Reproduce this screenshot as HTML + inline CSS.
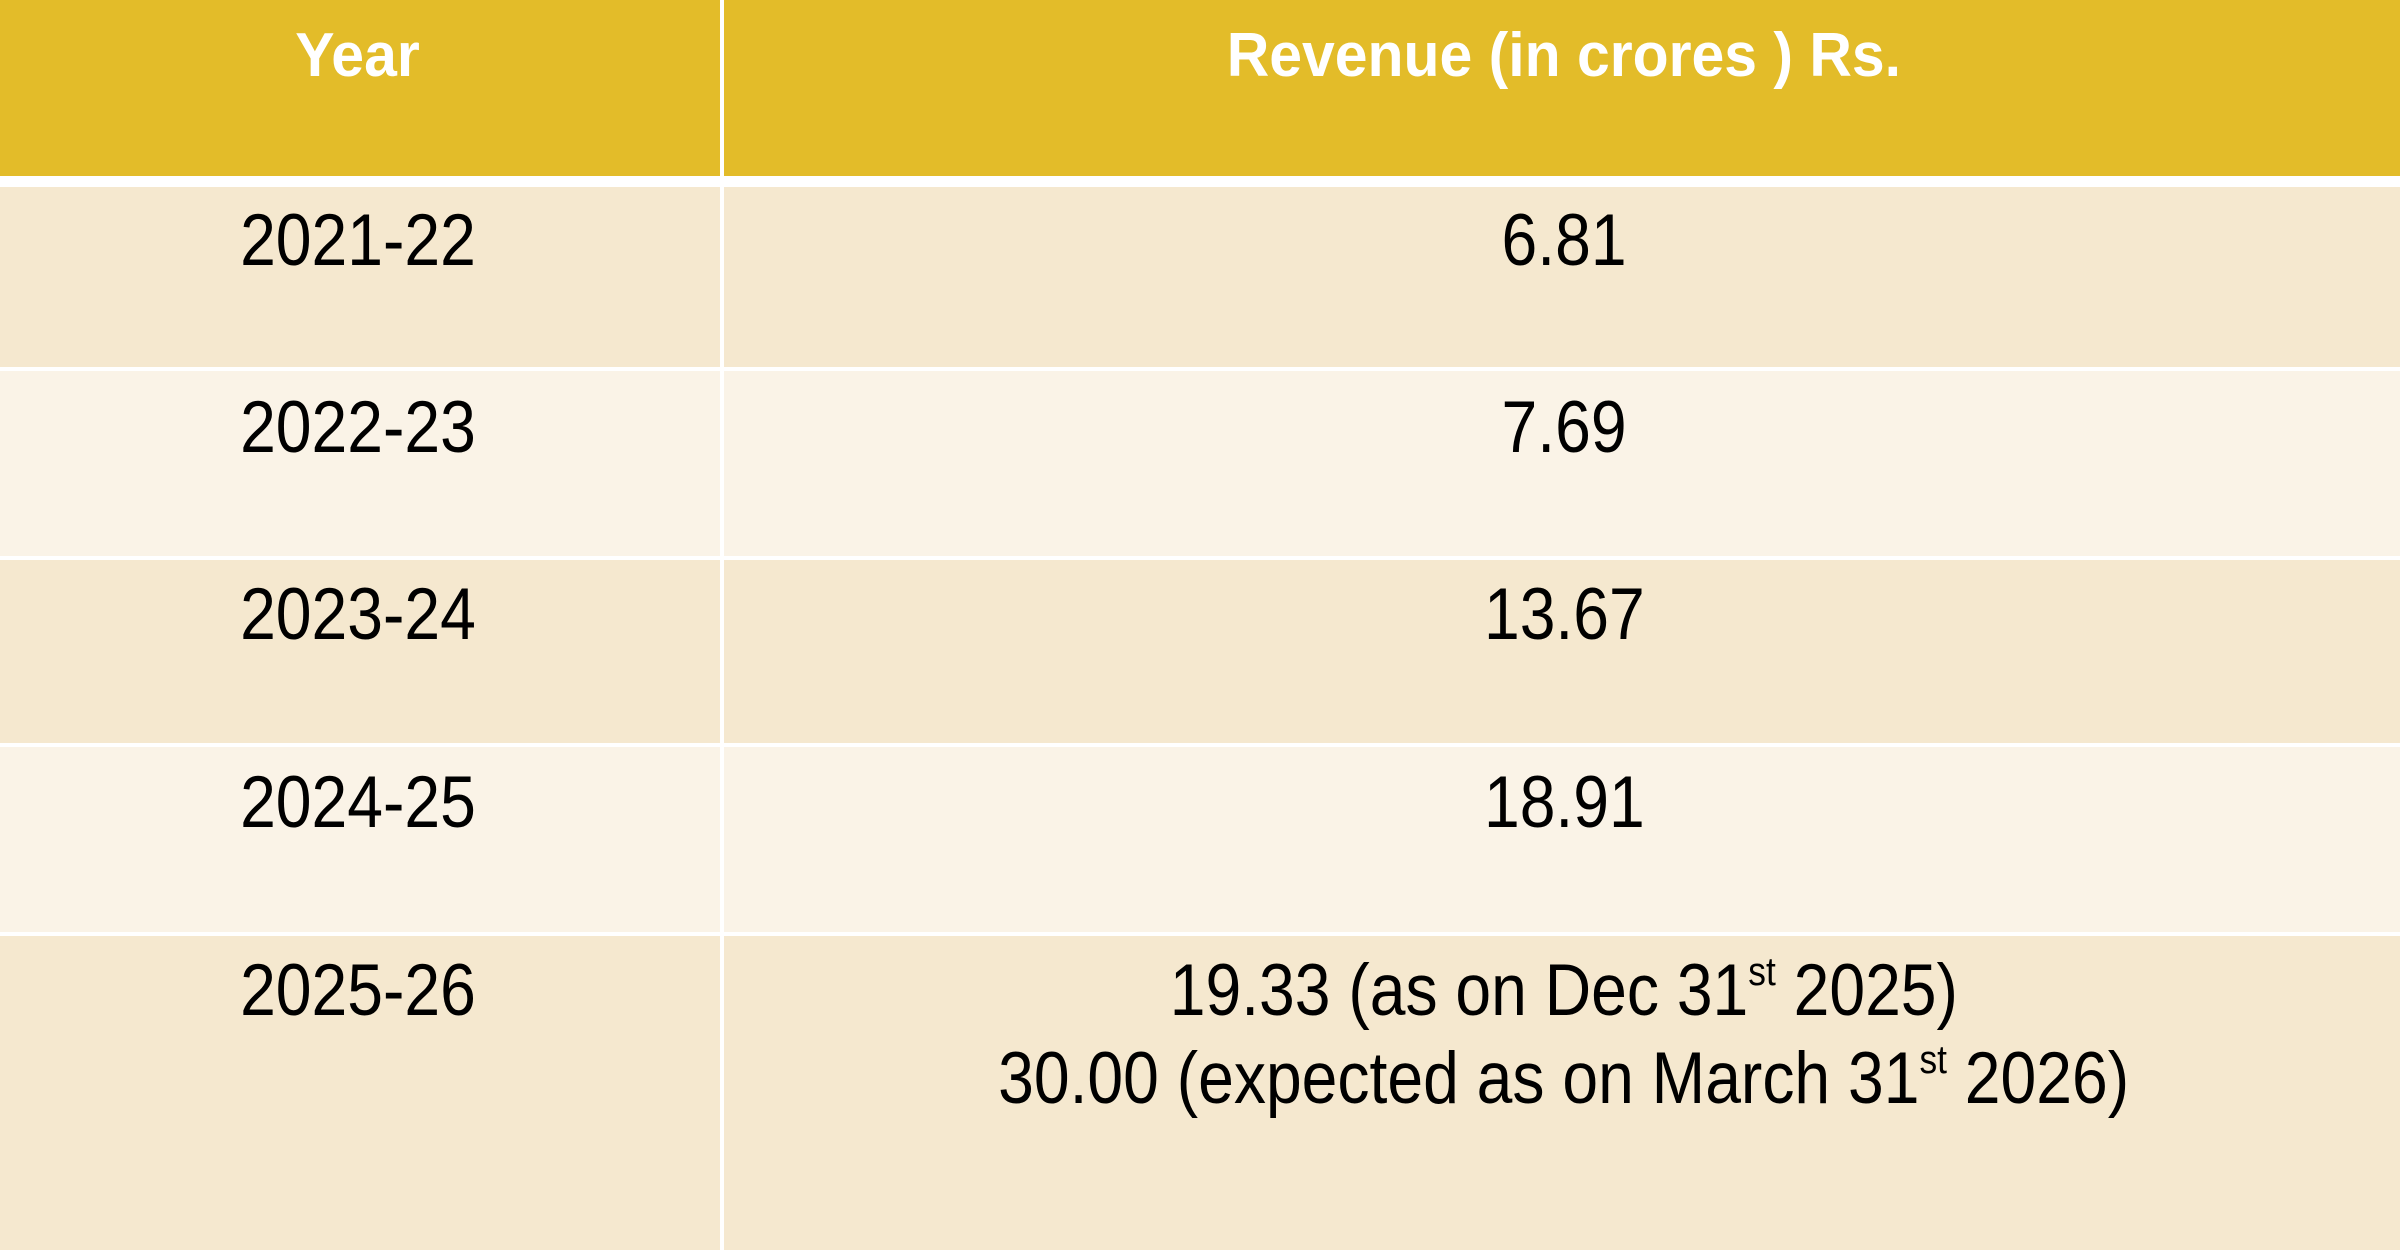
<!DOCTYPE html>
<html><head><meta charset="utf-8"><style>
html,body{margin:0;padding:0;}
body{width:2400px;height:1250px;background:#fff;position:relative;overflow:hidden;font-family:"Liberation Sans",sans-serif;}
.r{position:absolute;left:0;width:2400px;}
.vl{position:absolute;left:720px;top:0;width:4px;height:1250px;background:#fff;}
.t{position:absolute;white-space:nowrap;transform-origin:center bottom;}
.t span{display:inline-block;}
.b{font-size:73px;color:#000;line-height:1;}
.h{font-size:62px;color:#fff;font-weight:bold;line-height:1;}
sup{font-size:0.55em;vertical-align:0.75em;line-height:0;}
</style></head><body>
<div class="r" style="top:0;height:176px;background:#E3BC29"></div>
<div class="r" style="top:187px;height:180px;background:#F5E8CF"></div>
<div class="r" style="top:371px;height:185px;background:#FAF3E7"></div>
<div class="r" style="top:560px;height:183px;background:#F5E8CF"></div>
<div class="r" style="top:747px;height:185px;background:#FAF3E7"></div>
<div class="r" style="top:936px;height:314px;background:#F5E8CF"></div>
<div class="vl"></div>

<div class="t h" style="left:0;width:716px;text-align:center;top:25px;"><span style="transform:scaleX(0.95)">Year</span></div>
<div class="t h" style="left:724px;width:1680px;text-align:center;top:25px;"><span style="transform:scaleX(0.95)">Revenue (in crores ) Rs.</span></div>

<div class="t b" style="left:0;width:716px;text-align:center;top:204px;"><span style="transform:scaleX(0.88)">2021-22</span></div>
<div class="t b" style="left:0;width:716px;text-align:center;top:391px;"><span style="transform:scaleX(0.88)">2022-23</span></div>
<div class="t b" style="left:0;width:716px;text-align:center;top:578px;"><span style="transform:scaleX(0.88)">2023-24</span></div>
<div class="t b" style="left:0;width:716px;text-align:center;top:766px;"><span style="transform:scaleX(0.88)">2024-25</span></div>
<div class="t b" style="left:0;width:716px;text-align:center;top:954px;"><span style="transform:scaleX(0.88)">2025-26</span></div>

<div class="t b" style="left:724px;width:1680px;text-align:center;top:204px;"><span style="transform:scaleX(0.88)">6.81</span></div>
<div class="t b" style="left:724px;width:1680px;text-align:center;top:391px;"><span style="transform:scaleX(0.88)">7.69</span></div>
<div class="t b" style="left:724px;width:1680px;text-align:center;top:578px;"><span style="transform:scaleX(0.88)">13.67</span></div>
<div class="t b" style="left:724px;width:1680px;text-align:center;top:766px;"><span style="transform:scaleX(0.88)">18.91</span></div>
<div class="t b" style="left:724px;width:1680px;text-align:center;top:954px;"><span style="transform:scaleX(0.88)">19.33 (as on Dec 31<sup>st</sup> 2025)</span></div>
<div class="t b" style="left:724px;width:1680px;text-align:center;top:1042px;"><span style="transform:scaleX(0.88)">30.00 (expected as on March 31<sup>st</sup> 2026)</span></div>
</body></html>
